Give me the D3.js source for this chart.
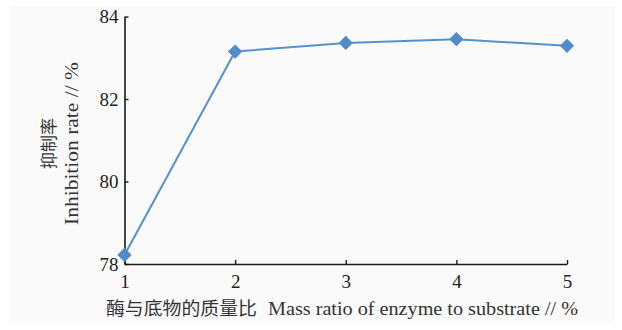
<!DOCTYPE html>
<html><head><meta charset="utf-8">
<script src="https://cdn.jsdelivr.net/npm/d3@7"></script>
<style>body{margin:0;background:#fff}svg{display:block}
.serif{font-family:"Liberation Serif",serif}
.cjk{font-family:"Noto Sans CJK SC","Noto Sans CJK JP",sans-serif}
</style>
</head><body>
<svg id="c" width="622" height="330"></svg>
<script>
const ratios = [1, 2, 3, 4, 5];
const inhibition = [78.22, 83.15, 83.36, 83.45, 83.29];
const yTicks = [78, 80, 82, 84];
const xTicks = [1, 2, 3, 4, 5];
const yTitleCn = "抑制率";
const yTitleEn = "Inhibition rate // %";
const xTitleCn = "酶与底物的质量比";
const xTitleEn = "Mass ratio of enzyme to substrate // %";

const svg = d3.select("#c");
svg.append("rect").attr("x", 11).attr("y", 6).attr("width", 604).attr("height", 317).attr("fill", "#fafafa");

const x = d3.scaleLinear().domain([1, 5]).range([124.5, 567]);
const y = d3.scaleLinear().domain([78, 84]).range([264, 16.5]);

const xAxis = svg.append("g").attr("transform", `translate(0,${y(78)})`)
  .call(d3.axisBottom(x).tickValues(xTicks).tickSizeInner(-4).tickSizeOuter(0).tickPadding(10).tickFormat(d3.format("d")));
const yAxis = svg.append("g").attr("transform", `translate(${x(1)},0)`)
  .call(d3.axisLeft(y).tickValues(yTicks).tickSizeInner(-4).tickSizeOuter(0).tickPadding(6).tickFormat(d3.format("d")));
[xAxis, yAxis].forEach(g => {
  g.attr("font-family", null).attr("font-size", null);
  g.select(".domain").attr("stroke", "#1a1a1a").attr("stroke-width", 1.6);
  g.selectAll(".tick line").attr("stroke", "#1a1a1a").attr("stroke-width", 1.4);
  g.selectAll(".tick text").attr("class", "serif").attr("fill", "#222").style("font-size", "19px");
});
yAxis.selectAll(".tick text").attr("dy", "0.34em");
xAxis.selectAll(".tick text").attr("dy", "0.72em");

const line = d3.line().x((d, i) => x(ratios[i])).y(d => y(d));
svg.append("path").datum(inhibition).attr("d", line).attr("fill", "none")
  .attr("stroke", "#5592cc").attr("stroke-width", 2);
svg.selectAll(".pt").data(inhibition).enter().append("path")
  .attr("class", "pt")
  .attr("transform", (d, i) => `translate(${x(ratios[i])},${y(d)})`)
  .attr("d", d3.symbol().type(d3.symbolDiamond2).size(130)())
  .attr("fill", "#4f8cc9");

// y title
svg.append("text").attr("class", "cjk").attr("transform", "translate(55,143.5) rotate(-90)")
  .attr("text-anchor", "middle").style("font-size", "17px").attr("fill", "#333").text(yTitleCn);
svg.append("text").attr("class", "serif").attr("transform", "translate(78,143.5) rotate(-90)")
  .attr("text-anchor", "middle").style("font-size", "19px").attr("fill", "#333")
  .attr("textLength", 163).attr("lengthAdjust", "spacingAndGlyphs").text(yTitleEn);

// x title
svg.append("text").attr("class", "cjk").attr("x", 106).attr("y", 315)
  .style("font-size", "18px").attr("fill", "#333")
  .attr("textLength", 151).attr("lengthAdjust", "spacingAndGlyphs").text(xTitleCn);
svg.append("text").attr("class", "serif").attr("x", 268).attr("y", 315)
  .style("font-size", "19px").attr("fill", "#333")
  .attr("textLength", 310).attr("lengthAdjust", "spacingAndGlyphs").text(xTitleEn);
</script>
</body></html>
